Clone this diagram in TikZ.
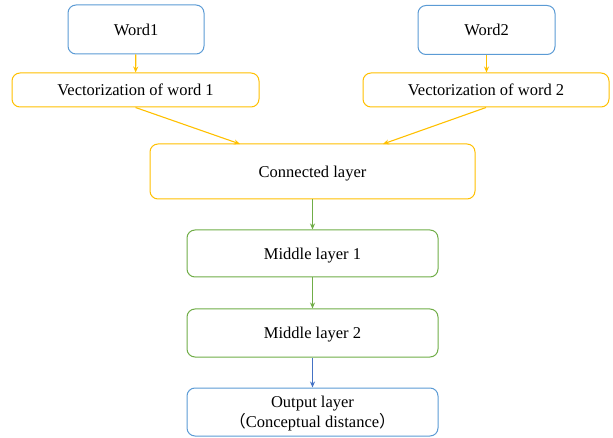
\documentclass[tikz,border=0pt]{standalone}
\usepackage{fontspec}
\setmainfont{Liberation Serif}
\newfontfamily\cjk{Noto Sans CJK SC}
\usetikzlibrary{arrows.meta}
\definecolor{cblue}{RGB}{91,155,213}
\definecolor{cgold}{RGB}{255,192,0}
\definecolor{cgreen}{RGB}{112,173,71}
\definecolor{cdblue}{RGB}{68,114,196}
\tikzset{
  box/.style={draw, rounded corners=8pt, line width=1pt, fill=white, inner sep=0pt, align=center, text depth=0pt, font=\fontsize{16.5}{20}\selectfont},
  conn/.style={line width=1.1pt, -{Stealth[length=6pt,width=5pt]}},
}
\begin{document}
\begin{tikzpicture}[x=1pt,y=-1pt]
\useasboundingbox (0,0) rectangle (613,438);
\node[box, draw=cblue, minimum width=136pt, minimum height=49pt] (w1) at (136,29.5) {Word1};
\node[box, draw=cblue, minimum width=137pt, minimum height=49pt] (w2) at (486.5,30) {Word2};
\node[box, draw=cgold, minimum width=247pt, minimum height=34pt] (v1) at (135.5,90) {Vectorization of word 1};
\node[box, draw=cgold, minimum width=246pt, minimum height=34pt] (v2) at (486,90) {Vectorization of word 2};
\node[box, draw=cgold, minimum width=325pt, minimum height=55pt] (c) at (312.5,171.5) {Connected layer};
\node[box, draw=cgreen, minimum width=251pt, minimum height=47pt] (m1) at (312.5,253.5) {Middle layer 1};
\node[box, draw=cgreen, minimum width=251pt, minimum height=48pt] (m2) at (312.5,333) {Middle layer 2};
\node[box, draw=cblue, minimum width=251pt, minimum height=48pt] (o) at (312.5,412) {Output layer\\{\cjk （}Conceptual distance{\cjk ）}};
\coordinate (c1) at (240,144);
\coordinate (c2) at (383,144);
\draw[conn, cgold] (w1) -- (v1);
\draw[conn, cgold] (w2.south) -- (w2.south |- v2.north);
\draw[conn, cgold] (v1.south) -- (c1);
\draw[conn, cgold] (v2.south) -- (c2);
\draw[conn, cgreen] (c) -- (m1);
\draw[conn, cgreen] (m1) -- (m2);
\draw[conn, cdblue] (m2) -- (o);
\end{tikzpicture}
\end{document}
